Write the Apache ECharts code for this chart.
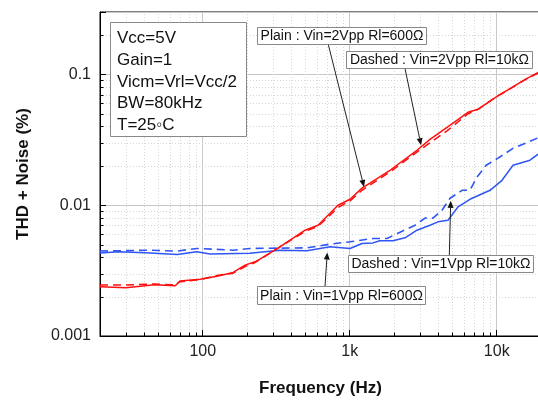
<!DOCTYPE html>
<html><head><meta charset="utf-8">
<script src="https://cdn.jsdelivr.net/npm/echarts@6/dist/echarts.min.js"></script>
<style>html,body{margin:0;padding:0;background:#fff}#c{width:538px;height:401px}</style>
</head><body><div id="c"></div>
<script>
// ---- data ----
const freqRedSolid = [20, 30, 47, 65, 70, 96, 125, 161, 194, 227, 245, 325, 497, 608, 679, 832, 1005, 1212, 1879, 2866, 3515, 4591, 6373, 7449, 10046, 11750, 16070, 20000];
const thdRedSolid  = [0.00238, 0.00234, 0.00246, 0.00242, 0.00263, 0.00272, 0.00286, 0.00306, 0.00348, 0.00369, 0.00387, 0.0047, 0.00644, 0.00703, 0.00796, 0.0100, 0.0111, 0.0135, 0.0185, 0.0263, 0.0319, 0.0394, 0.0513, 0.0541, 0.0679, 0.0755, 0.0932, 0.106];

const freqRedDashed = [20, 30, 47, 65, 70, 96, 125, 161, 194, 227, 245, 325, 497, 608, 679, 832, 1005, 1212, 1879, 2866, 3515, 4591, 6373, 7449, 10046, 11750, 16070, 20000];
const thdRedDashed  = [0.00245, 0.00245, 0.00250, 0.00246, 0.00260, 0.00270, 0.00290, 0.00302, 0.00340, 0.00365, 0.00385, 0.00470, 0.00630, 0.00690, 0.00770, 0.00960, 0.01080, 0.01300, 0.01800, 0.02550, 0.03000, 0.03700, 0.05000, 0.05400, 0.06800, 0.07500, 0.09300, 0.10500];

const freqBlueSolid = [20, 27, 44, 67, 91, 112, 209, 335, 512, 734, 1005, 1212, 1439, 1600, 1970, 2377, 2866, 3515, 3982, 4658, 5450, 6570, 9000, 10860, 12900, 16830, 20000];
const thdBlueSolid  = [0.00432, 0.0044, 0.00432, 0.0042, 0.0044, 0.00423, 0.0043, 0.00453, 0.00448, 0.00481, 0.00467, 0.0051, 0.00515, 0.00535, 0.00535, 0.00563, 0.00644, 0.00703, 0.00746, 0.00768, 0.0097, 0.0111, 0.013, 0.0155, 0.0202, 0.0221, 0.0255];

const freqBlueDashed = [20, 42, 67, 91, 161, 209, 512, 734, 1005, 1439, 1792, 2200, 2780, 3250, 3680, 4240, 4810, 5810, 6570, 7340, 8460, 10200, 12900, 16300, 20000];
const thdBlueDashed  = [0.00446, 0.00453, 0.00446, 0.00467, 0.00453, 0.00467, 0.00472, 0.00504, 0.00525, 0.00557, 0.00557, 0.00622, 0.00703, 0.00796, 0.00796, 0.00916, 0.0113, 0.0130, 0.0130, 0.0164, 0.0202, 0.0229, 0.0272, 0.0303, 0.0335];

const xMin = 20, xMax = 20000, yMin = 0.001, yMax = 0.3;
const minorFreqs = [30,40,50,60,70,80,90,200,300,400,500,600,700,800,900,2000,3000,4000,5000,6000,7000,8000,9000];
const minorThd = [0.002,0.003,0.004,0.005,0.006,0.007,0.008,0.009,0.02,0.03,0.04,0.05,0.06,0.07,0.08,0.09,0.2];

const infoLines = ['Vcc=5V', 'Gain=1', 'Vicm=Vrl=Vcc/2', 'BW=80kHz', 'T=25\u25E6C'];
const labelTexts = ['Plain : Vin=2Vpp Rl=600\u03A9', 'Dashed : Vin=2Vpp Rl=10k\u03A9', 'Dashed : Vin=1Vpp Rl=10k\u03A9', 'Plain : Vin=1Vpp Rl=600\u03A9'];
// arrow tips in data coordinates [freq, thd]
const arrowTips = [[1250, 0.0138], [3054, 0.0287], [4864, 0.0108], [703, 0.00435]];

// ---- layout ----
const FONT = 'Liberation Sans, Arial, sans-serif';
const labelBoxes = [
  {x: 257.5, y: 27.5, w: 169, h: 17, sx: 328.3, sy: 44.5},
  {x: 346.5, y: 51.5, w: 186, h: 17, sx: 405, sy: 68.5},
  {x: 348.5, y: 255.5, w: 185, h: 17, sx: 449.3, sy: 255.5},
  {x: 257.5, y: 286.5, w: 168, h: 18, sx: 325, sy: 286.5}
];

const zip = (a, b) => a.map((v, i) => [v, b[i]]);
const chart = echarts.init(document.getElementById('c'), null, {renderer: 'canvas'});

function isPow10(v) { const l = Math.log10(v); return Math.abs(l - Math.round(l)) < 1e-6; }

function minorV(params, api) {
  const f = api.value(0);
  const p1 = api.coord([f, yMin]), p2 = api.coord([f, yMax]);
  const x = Math.round(p1[0]) + 0.5;
  return {type: 'group', children: [
    {type: 'line', shape: {x1: x, y1: p1[1], x2: x, y2: p2[1]}, style: {stroke: '#d6d6d6', lineWidth: 1, lineDash: [1, 2]}},
    {type: 'line', shape: {x1: x, y1: p1[1], x2: x, y2: p1[1] - 3.5}, style: {stroke: '#000', lineWidth: 1}}
  ]};
}
function minorH(params, api) {
  const v = api.value(1);
  const p1 = api.coord([xMin, v]), p2 = api.coord([xMax, v]);
  const y = Math.round(p1[1]) + 0.5;
  return {type: 'group', children: [
    {type: 'line', shape: {x1: p1[0], y1: y, x2: p2[0], y2: y}, style: {stroke: '#d6d6d6', lineWidth: 1, lineDash: [1, 2]}},
    {type: 'line', shape: {x1: p1[0], y1: y, x2: p1[0] + 3.5, y2: y}, style: {stroke: '#000', lineWidth: 1}}
  ]};
}

const RED = '#ff1010', BLUE = '#2f55f5';
chart.setOption({
  animation: false,
  grid: {left: 100, top: 12, width: 441, height: 324, outerBoundsMode: 'none', containLabel: false,
    show: true, borderColor: '#000', borderWidth: 1, backgroundColor: 'transparent'},
  xAxis: {
    type: 'log', logBase: 10, min: xMin, max: xMax,
    name: 'Frequency (Hz)', nameLocation: 'middle', nameGap: 44,
    nameTextStyle: {fontFamily: FONT, fontSize: 17, fontWeight: 'bold', color: '#111'},
    axisLine: {lineStyle: {color: '#000', width: 1}},
    axisTick: {inside: true, length: 6, lineStyle: {color: '#000'}},
    axisLabel: {fontFamily: FONT, fontSize: 16, color: '#222', margin: 8,
      formatter: v => { if (!isPow10(v)) return ''; const r = Math.round(v); return r >= 1000 ? (r / 1000) + 'k' : String(r); }},
    splitLine: {show: true, lineStyle: {color: '#c8c8c8', width: 1}},
    minorTick: {show: false}, minorSplitLine: {show: false}
  },
  yAxis: {
    type: 'log', logBase: 10, min: yMin, max: yMax,
    name: 'THD + Noise (%)', nameLocation: 'middle', nameGap: 68,
    nameTextStyle: {fontFamily: FONT, fontSize: 17, fontWeight: 'bold', color: '#111'},
    axisLine: {show: true, lineStyle: {color: '#000', width: 1}},
    axisTick: {show: true, inside: true, length: 6, lineStyle: {color: '#000'}},
    axisLabel: {fontFamily: FONT, fontSize: 16, color: '#222', margin: 9,
      formatter: v => isPow10(v) ? String(parseFloat(v.toPrecision(3))) : ''},
    splitLine: {show: true, lineStyle: {color: '#c8c8c8', width: 1}},
    minorTick: {show: false}, minorSplitLine: {show: false}
  },
  series: [
    {type: 'custom', silent: true, z: 1, renderItem: minorV, data: minorFreqs.map(f => [f, yMin])},
    {type: 'custom', silent: true, z: 1, renderItem: minorH, data: minorThd.map(v => [xMin, v])},
    {name: '1Vpp 600', type: 'line', z: 3, showSymbol: false, data: zip(freqBlueSolid, thdBlueSolid), lineStyle: {color: BLUE, width: 1.5}},
    {name: '1Vpp 10k', type: 'line', z: 3, showSymbol: false, data: zip(freqBlueDashed, thdBlueDashed), lineStyle: {color: BLUE, width: 1.6, type: [8, 5]}},
    {name: '2Vpp 600', type: 'line', z: 4, showSymbol: false, data: zip(freqRedSolid, thdRedSolid), lineStyle: {color: RED, width: 1.5}},
    {name: '2Vpp 10k', type: 'line', z: 4, showSymbol: false, data: zip(freqRedDashed, thdRedDashed), lineStyle: {color: RED, width: 1.5, type: [8, 5]}}
  ]
});

// ---- annotations ----
const g = [];
g.push({type: 'rect', shape: {x: 110.5, y: 22.5, width: 136, height: 114}, style: {fill: '#fff', stroke: '#888', lineWidth: 1}, z: 10});
g.push({type: 'text', x: 117, y: 27.6, style: {text: infoLines.join('\n'), font: '17px ' + FONT, lineHeight: 21.7, fill: '#111', verticalAlign: 'top', align: 'left'}, z: 11});

labelBoxes.forEach((b, i) => {
  const tip = chart.convertToPixel({gridIndex: 0}, arrowTips[i]);
  const dx = tip[0] - b.sx, dy = tip[1] - b.sy, len = Math.hypot(dx, dy);
  const ux = dx / len, uy = dy / len, L = 7, W = 3;
  const bx = tip[0] - ux * L, by = tip[1] - uy * L;
  g.push({type: 'line', shape: {x1: b.sx, y1: b.sy, x2: bx, y2: by}, style: {stroke: '#222', lineWidth: 1}, z: 12});
  g.push({type: 'polygon', shape: {points: [[tip[0], tip[1]], [bx - uy * W, by + ux * W], [bx + uy * W, by - ux * W]]}, style: {fill: '#111'}, z: 12});
  g.push({type: 'rect', shape: {x: b.x, y: b.y, width: b.w, height: b.h}, style: {fill: '#fff', stroke: '#888', lineWidth: 1}, z: 13});
  g.push({type: 'text', x: b.x + b.w / 2, y: b.y + b.h / 2 + 0.5, style: {text: labelTexts[i], font: '14px ' + FONT, fill: '#111', align: 'center', verticalAlign: 'middle'}, z: 14});
});
chart.setOption({graphic: g});
</script>
</body></html>
